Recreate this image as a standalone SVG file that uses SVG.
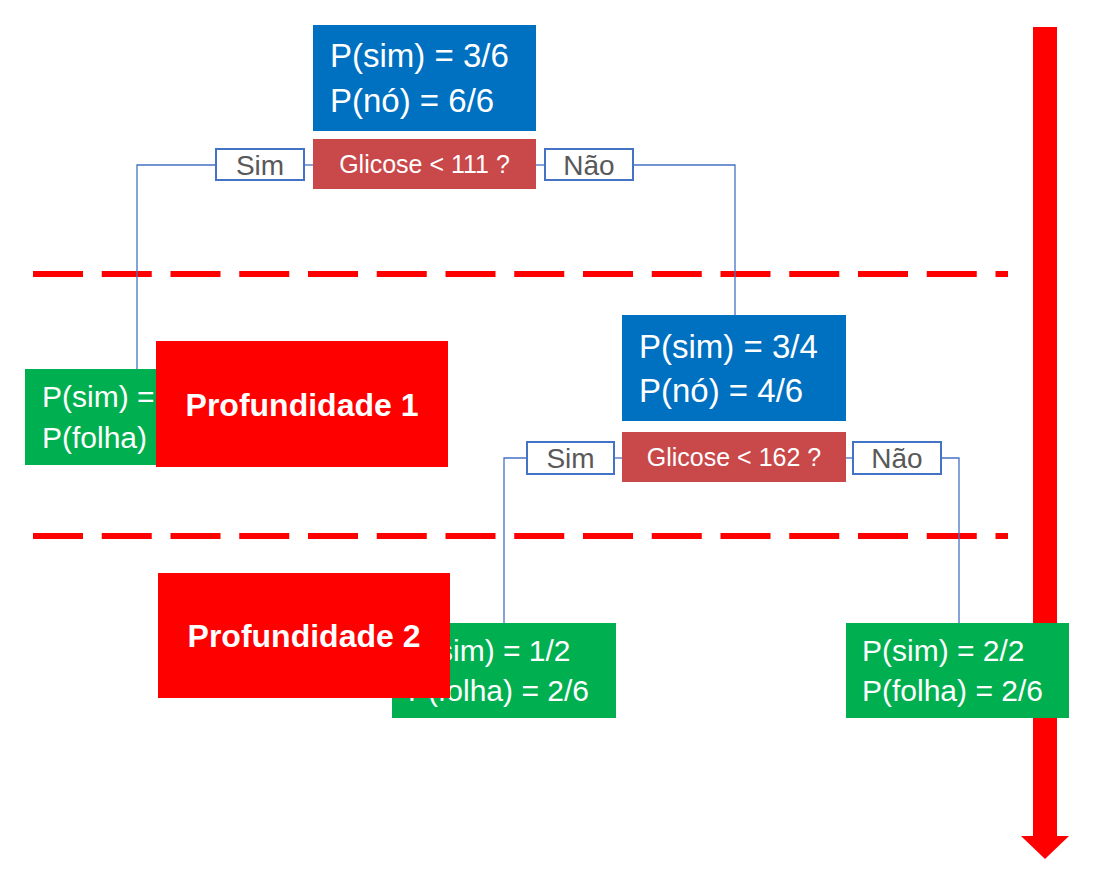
<svg xmlns="http://www.w3.org/2000/svg" width="1100" height="874" viewBox="0 0 1100 874">
<style>
  text { font-family: "Liberation Sans", Arial, sans-serif; }
  .blue { fill: #0070C0; }
  .green { fill: #00B050; }
  .cond { fill: #C9484A; }
  .depth { fill: #FF0000; }
  .lbl { fill: #FFFFFF; stroke: #4472C4; stroke-width: 2; }
  .lbltxt { fill: #595959; font-size: 28px; text-anchor: middle; }
  .big { fill: #FFFFFF; font-size: 33px; }
  .leaf { fill: #FFFFFF; font-size: 30px; }
  .condtxt { fill: #FFFFFF; font-size: 25px; text-anchor: middle; }
  .depthtxt { fill: #FFFFFF; font-size: 32px; font-weight: bold; text-anchor: middle; }
  .conn { fill: none; stroke: #4472C4; stroke-width: 1.3; }
  .dash { stroke: #FF0000; stroke-width: 6; stroke-dasharray: 50 18.75; }
</style>
<rect width="1100" height="874" fill="#FFFFFF"/>

<g id="depth-arrow">
  <rect x="1033" y="27" width="24" height="810" fill="#FF0000"/>
  <polygon points="1021,836 1069,836 1045,859" fill="#FF0000"/>
</g>

<g id="depth-lines">
  <line class="dash" x1="33" y1="274" x2="1008" y2="274"/>
  <line class="dash" x1="33" y1="536" x2="1008" y2="536"/>
</g>

<g id="connectors">
  <polyline class="conn" points="216,165 137,165 137,369"/>
  <line class="conn" x1="304" y1="165" x2="313" y2="165"/>
  <line class="conn" x1="536" y1="165" x2="545" y2="165"/>
  <polyline class="conn" points="633,165 735,165 735,315"/>
  <polyline class="conn" points="527,458 504,458 504,623"/>
  <line class="conn" x1="614" y1="458" x2="622" y2="458"/>
  <line class="conn" x1="845" y1="458" x2="853" y2="458"/>
  <polyline class="conn" points="941,458 959,458 959,623"/>
</g>

<g id="root-stats">
  <rect class="blue" x="313" y="25" width="223" height="106"/>
  <text class="big" x="330" y="67">P(sim) = 3/6</text>
  <text class="big" x="330" y="112">P(nó) = 6/6</text>
</g>
<g id="root-cond">
  <rect class="cond" x="313" y="139" width="223" height="50"/>
  <text class="condtxt" x="424.5" y="173">Glicose &lt; 111 ?</text>
</g>
<g id="root-sim">
  <rect class="lbl" x="216" y="149" width="88" height="31"/>
  <text class="lbltxt" x="260" y="175">Sim</text>
</g>
<g id="root-nao">
  <rect class="lbl" x="545" y="149" width="88" height="31"/>
  <text class="lbltxt" x="589" y="175">Não</text>
</g>

<g id="leaf-left">
  <rect class="green" x="25" y="369" width="200" height="96"/>
  <text class="leaf" x="42" y="407">P(sim) =</text>
  <text class="leaf" x="42" y="448">P(folha) =</text>
</g>

<g id="depth-1">
  <rect class="depth" x="156" y="341" width="292" height="126"/>
  <text class="depthtxt" x="302" y="416">Profundidade 1</text>
</g>

<g id="node2-stats">
  <rect class="blue" x="622" y="315" width="224" height="106"/>
  <text class="big" x="639" y="358">P(sim) = 3/4</text>
  <text class="big" x="639" y="402">P(nó) = 4/6</text>
</g>
<g id="node2-cond">
  <rect class="cond" x="622" y="432" width="224" height="50"/>
  <text class="condtxt" x="734" y="466">Glicose &lt; 162 ?</text>
</g>
<g id="node2-sim">
  <rect class="lbl" x="527" y="442" width="87" height="32"/>
  <text class="lbltxt" x="570.5" y="468">Sim</text>
</g>
<g id="node2-nao">
  <rect class="lbl" x="853" y="442" width="88" height="32"/>
  <text class="lbltxt" x="897" y="468">Não</text>
</g>

<g id="leaf-mid">
  <rect class="green" x="392" y="623" width="224" height="95"/>
  <text class="leaf" x="408" y="661">P(sim) = 1/2</text>
  <text class="leaf" x="408" y="701">P(folha) = 2/6</text>
</g>

<g id="depth-2">
  <rect class="depth" x="158" y="573" width="292" height="125"/>
  <text class="depthtxt" x="304" y="647">Profundidade 2</text>
</g>

<g id="leaf-right">
  <rect class="green" x="846" y="623" width="223" height="95"/>
  <text class="leaf" x="862" y="661">P(sim) = 2/2</text>
  <text class="leaf" x="862" y="701">P(folha) = 2/6</text>
</g>
</svg>
